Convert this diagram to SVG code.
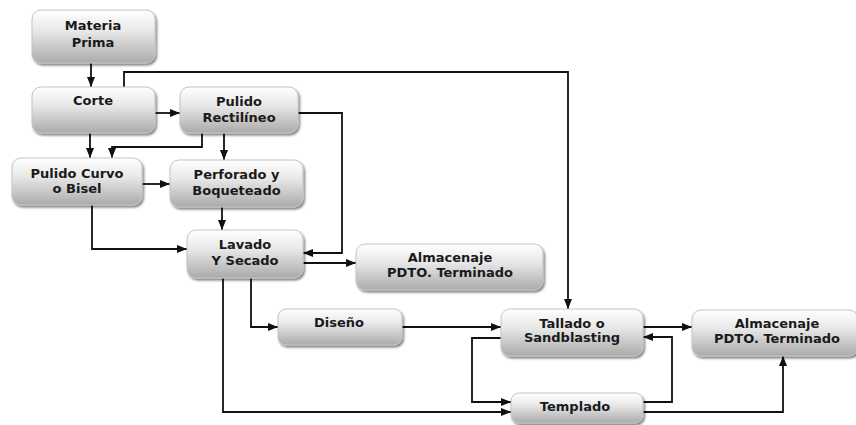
<svg xmlns="http://www.w3.org/2000/svg" width="856" height="425" viewBox="0 0 856 425">
<defs>
<linearGradient id="g" x1="0" y1="0" x2="0" y2="1">
<stop offset="0" stop-color="#ffffff"/>
<stop offset="0.4" stop-color="#e8e8e8"/>
<stop offset="1" stop-color="#aaaaaa"/>
</linearGradient>
<filter id="sh" x="-10%" y="-10%" width="125%" height="140%">
<feDropShadow dx="1.5" dy="2" stdDeviation="1.2" flood-color="#000" flood-opacity="0.5"/>
</filter>
<marker id="a" markerWidth="10" markerHeight="8" refX="10" refY="4" orient="auto" markerUnits="userSpaceOnUse">
<path d="M0,0 L10,4 L0,8 z" fill="#111"/>
</marker>
</defs>
<style>
.n rect{fill:url(#g);stroke:#c4c4c4;stroke-width:1;filter:url(#sh)}
.n text{font-family:"DejaVu Sans",Verdana,sans-serif;font-weight:bold;font-size:13px;fill:#1a1a1a;text-anchor:middle}
.c path{fill:none;stroke:#111;stroke-width:1.8;marker-end:url(#a)}
</style>
<rect width="856" height="425" fill="#fff"/>
<g id="connectors" class="c">
<path d="M91,63 V87"/>
<path d="M124,87 V72 H568 V309"/>
<path d="M155,113 H180"/>
<path d="M298,113 H342 V253 H303"/>
<path d="M90,133 V158"/>
<path d="M202,133 V147 H112 V158"/>
<path d="M224,133 V160"/>
<path d="M142,184 H170"/>
<path d="M92,205 V249 H187"/>
<path d="M222,207 V230"/>
<path d="M303,263 H356"/>
<path d="M251,278 V327 H278"/>
<path d="M223,278 V412 H511"/>
<path d="M402,327 H501"/>
<path d="M501,338 H472 V402 H511"/>
<path d="M643,327 H692"/>
<path d="M643,402 H672 V337 H643"/>
<path d="M643,412 H783 V356"/>
</g>
<g id="materia-prima" class="n"><rect x="32" y="10" width="123" height="53" rx="9"/><text x="93" y="29.5">Materia</text><text x="93" y="46.5">Prima</text></g>
<g id="corte" class="n"><rect x="32" y="87" width="123" height="46" rx="9"/><text x="93" y="104.5">Corte</text></g>
<g id="pulido-rectilineo" class="n"><rect x="180" y="87" width="118" height="46" rx="9"/><text x="239" y="105.5">Pulido</text><text x="239" y="121.5">Rectilíneo</text></g>
<g id="pulido-curvo" class="n"><rect x="12" y="158" width="130" height="47" rx="9"/><text x="77" y="177.5">Pulido Curvo</text><text x="77" y="192.5">o Bisel</text></g>
<g id="perforado" class="n"><rect x="170" y="160" width="133" height="47" rx="9"/><text x="236.5" y="178.5">Perforado y</text><text x="236.5" y="194.5">Boqueteado</text></g>
<g id="lavado" class="n"><rect x="187" y="230" width="116" height="48" rx="9"/><text x="245" y="248.5">Lavado</text><text x="245" y="264.5">Y Secado</text></g>
<g id="almacenaje-1" class="n"><rect x="356" y="244" width="187" height="46" rx="9"/><text x="450" y="261.5">Almacenaje</text><text x="450" y="276.5">PDTO. Terminado</text></g>
<g id="diseno" class="n"><rect x="278" y="309" width="124" height="36" rx="8"/><text x="339" y="326.5">Diseño</text></g>
<g id="tallado" class="n"><rect x="501" y="309" width="142" height="47" rx="9"/><text x="572" y="327.5">Tallado o</text><text x="572" y="341.5">Sandblasting</text></g>
<g id="almacenaje-2" class="n"><rect x="692" y="310" width="166" height="46" rx="9"/><text x="777" y="327.5">Almacenaje</text><text x="777" y="342.5">PDTO. Terminado</text></g>
<g id="templado" class="n"><rect x="511" y="393" width="132" height="30" rx="8"/><text x="575" y="410.5">Templado</text></g>
</svg>
